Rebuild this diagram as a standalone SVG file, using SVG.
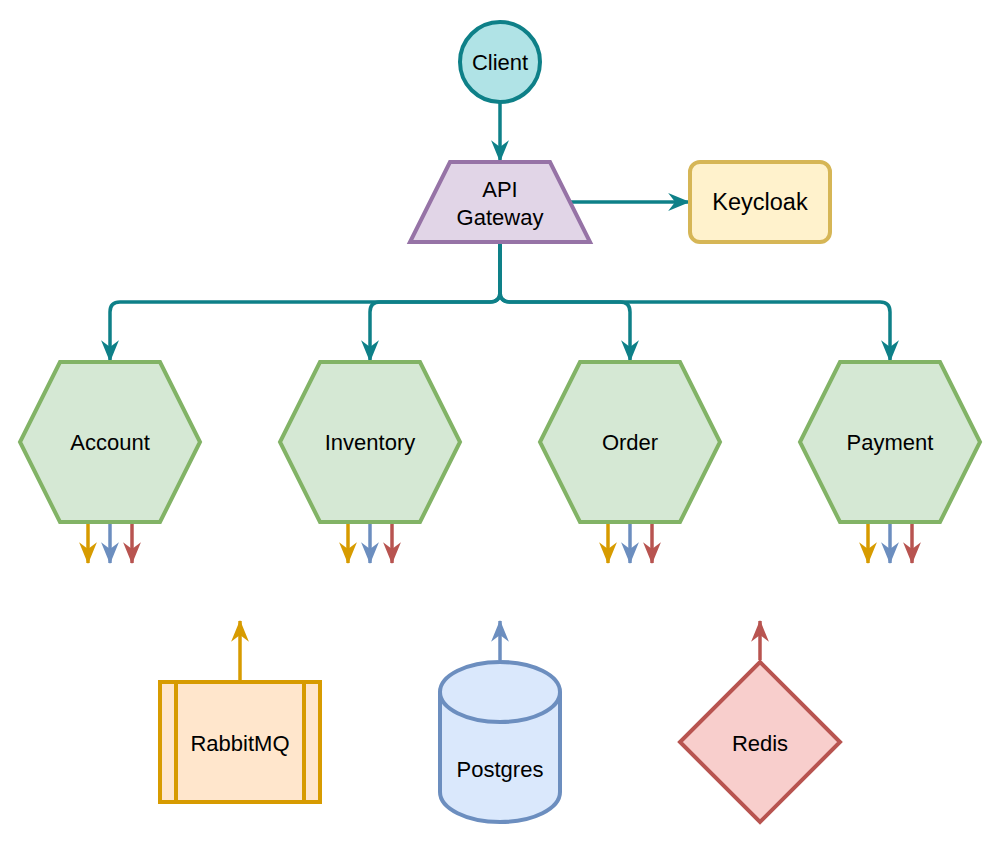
<svg xmlns="http://www.w3.org/2000/svg" width="1005" height="845" viewBox="0 0 1005 845">
<defs>
<style>
text{font-family:"Liberation Sans",Arial,Helvetica,sans-serif;font-size:22px;fill:#000;text-anchor:middle;dominant-baseline:central}
.s{stroke-width:4;stroke-linejoin:miter}
.hex{fill:#d5e8d4;stroke:#82b366}
.e{fill:none;stroke-width:3.5}
.teal{stroke:#0e8088}
.or{stroke:#d79b00}
.bl{stroke:#6c8ebf}
.rd{stroke:#b85450}
</style>
<marker id="mT" viewBox="0 0 22 18" refX="21" refY="9" markerWidth="6.3" markerHeight="5.1" orient="auto"><path d="M0,0 L22,9 L0,18 L7,9 z" fill="#0e8088"/></marker>
<marker id="mO" viewBox="0 0 22 18" refX="21" refY="9" markerWidth="6.3" markerHeight="5.1" orient="auto"><path d="M0,0 L22,9 L0,18 L7,9 z" fill="#d79b00"/></marker>
<marker id="mB" viewBox="0 0 22 18" refX="21" refY="9" markerWidth="6.3" markerHeight="5.1" orient="auto"><path d="M0,0 L22,9 L0,18 L7,9 z" fill="#6c8ebf"/></marker>
<marker id="mR" viewBox="0 0 22 18" refX="21" refY="9" markerWidth="6.3" markerHeight="5.1" orient="auto"><path d="M0,0 L22,9 L0,18 L7,9 z" fill="#b85450"/></marker>
</defs>
<rect width="1005" height="845" fill="#fff"/>
<g id="connectors">
<path class="e teal" d="M500 102 V161" marker-end="url(#mT)"/>
<path class="e teal" d="M571 202 H689" marker-end="url(#mT)"/>
<path class="e teal" d="M500 242 V292 Q500 302 490 302 H120 Q110 302 110 312 V361" marker-end="url(#mT)"/>
<path class="e teal" d="M500 242 V292 Q500 302 490 302 H380 Q370 302 370 312 V361" marker-end="url(#mT)"/>
<path class="e teal" d="M500 242 V292 Q500 302 510 302 H620 Q630 302 630 312 V361" marker-end="url(#mT)"/>
<path class="e teal" d="M500 242 V292 Q500 302 510 302 H880 Q890 302 890 312 V361" marker-end="url(#mT)"/>
<g>
<path class="e or" d="M88 524 V563" marker-end="url(#mO)"/>
<path class="e bl" d="M110 524 V563" marker-end="url(#mB)"/>
<path class="e rd" d="M132 524 V563" marker-end="url(#mR)"/>
<path class="e or" d="M348 524 V563" marker-end="url(#mO)"/>
<path class="e bl" d="M370 524 V563" marker-end="url(#mB)"/>
<path class="e rd" d="M392 524 V563" marker-end="url(#mR)"/>
<path class="e or" d="M608 524 V563" marker-end="url(#mO)"/>
<path class="e bl" d="M630 524 V563" marker-end="url(#mB)"/>
<path class="e rd" d="M652 524 V563" marker-end="url(#mR)"/>
<path class="e or" d="M868 524 V563" marker-end="url(#mO)"/>
<path class="e bl" d="M890 524 V563" marker-end="url(#mB)"/>
<path class="e rd" d="M912 524 V563" marker-end="url(#mR)"/>
</g>
<path class="e or" d="M240 680 V621" marker-end="url(#mO)"/>
<path class="e bl" d="M500 660 V621" marker-end="url(#mB)"/>
<path class="e rd" d="M760 660 V621" marker-end="url(#mR)"/>
</g>
<g id="client">
<circle class="s" cx="500" cy="62" r="40" fill="#b0e3e6" stroke="#0e8088"/>
<text x="500" y="62">Client</text>
</g>
<g id="gateway">
<path class="s" d="M450 162 H550 L590 242 H410 Z" fill="#e1d5e7" stroke="#9673a6"/>
<text x="500" y="189">API</text>
<text x="500" y="217">Gateway</text>
</g>
<g id="keycloak">
<rect class="s" x="690" y="162" width="140" height="80" rx="10" fill="#fff2cc" stroke="#d6b656"/>
<text x="760" y="202" style="font-size:23.5px">Keycloak</text>
</g>
<g id="account">
<path class="s hex" d="M60 362 H160 L200 442 L160 522 H60 L20 442 Z"/>
<text x="110" y="442">Account</text>
</g>
<g id="inventory">
<path class="s hex" d="M320 362 H420 L460 442 L420 522 H320 L280 442 Z"/>
<text x="370" y="442">Inventory</text>
</g>
<g id="order">
<path class="s hex" d="M580 362 H680 L720 442 L680 522 H580 L540 442 Z"/>
<text x="630" y="442">Order</text>
</g>
<g id="payment">
<path class="s hex" d="M840 362 H940 L980 442 L940 522 H840 L800 442 Z"/>
<text x="890" y="442">Payment</text>
</g>
<g id="rabbitmq">
<rect class="s" x="160" y="682" width="160" height="120" fill="#ffe6cc" stroke="#d79b00"/>
<path class="s" d="M176 682 V802 M304 682 V802" fill="none" stroke="#d79b00"/>
<text x="240" y="743">RabbitMQ</text>
</g>
<g id="postgres">
<path class="s" d="M440 692 A60 30 0 0 1 560 692 V792 A60 30 0 0 1 440 792 Z" fill="#dae8fc" stroke="#6c8ebf"/>
<path class="s" d="M440 692 A60 30 0 0 0 560 692" fill="none" stroke="#6c8ebf"/>
<text x="500" y="769">Postgres</text>
</g>
<g id="redis">
<path class="s" d="M760 662 L840 742 L760 822 L680 742 Z" fill="#f8cecc" stroke="#b85450"/>
<text x="760" y="743">Redis</text>
</g>
</svg>
